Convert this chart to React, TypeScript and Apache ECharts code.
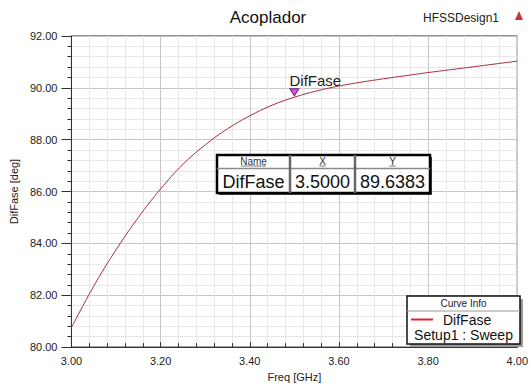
import React, { useEffect, useRef } from "react";
import * as echarts from "echarts";

// Sweep results: phase difference vs frequency
const freqGHz = [3.0, 3.05, 3.1, 3.15, 3.2, 3.25, 3.3, 3.35, 3.4, 3.45, 3.5, 3.55, 3.6, 3.65, 3.7, 3.75, 3.8, 3.85, 3.9, 3.95, 4.0];
const difFaseDeg = [80.75, 82.35, 83.75, 85.0, 86.1, 87.05, 87.8, 88.42, 88.92, 89.33, 89.6383, 89.88, 90.07, 90.22, 90.35, 90.47, 90.59, 90.7, 90.81, 90.92, 91.03];

// Marker readout
const markerFreq = 3.5;
const markerValue = 89.6383;

const seriesName = "DifFase";
const setupName = "Setup1 : Sweep";
const chartTitle = "Acoplador";
const designName = "HFSSDesign1";
const xAxisName = "Freq [GHz]";
const yAxisName = "DifFase [deg]";
const tableHeaders = ["Name", "X", "Y"];

const xMin = 3.0, xMax = 4.0, xStep = 0.2;
const yMin = 80, yMax = 92, yStep = 2;

const font = "'Liberation Sans', Arial, sans-serif";

export default function App() {
  const ref = useRef<HTMLDivElement>(null);

  useEffect(() => {
    if (!ref.current) return;
    const chart = echarts.init(ref.current, undefined, { renderer: "svg" });

    const data = freqGHz.map((f, i) => [f, difFaseDeg[i]]);

    // marker table geometry
    const tL = 217, tT = 155, tR = 430, tB = 193;
    const colX = [tL, 290, 355, tR];
    const colC = [0, 1, 2].map((i) => (colX[i] + colX[i + 1]) / 2);
    const tableCells = [seriesName, markerFreq.toFixed(4), markerValue.toFixed(4)];

    // curve info box geometry
    const lL = 407, lT = 296, lR = 520, lB = 344;

    const graphic: any[] = [
      { type: "text", x: 268, y: 17, style: { text: chartTitle, fontFamily: font, fontSize: 17, fill: "#111", textAlign: "center", textVerticalAlign: "middle" } },
      { type: "text", x: 461, y: 18, style: { text: designName, fontFamily: font, fontSize: 12, fill: "#222", textAlign: "center", textVerticalAlign: "middle" } },
      { type: "polygon", shape: { points: [[515, 20], [519, 11], [523, 20]] }, style: { fill: "#c8323c" } },

      // marker table
      { type: "rect", shape: { x: tL + 2, y: tT + 2, width: tR - tL, height: tB - tT }, style: { fill: "#444" } },
      { type: "rect", shape: { x: tL, y: tT, width: tR - tL, height: tB - tT }, style: { fill: "#fff", stroke: "#000", lineWidth: 2.5 } },
      { type: "line", shape: { x1: tL, y1: 168.5, x2: tR, y2: 168.5 }, style: { stroke: "#8a8a8a", lineWidth: 1.5 } },
      { type: "line", shape: { x1: colX[1], y1: tT, x2: colX[1], y2: tB }, style: { stroke: "#666", lineWidth: 2.5 } },
      { type: "line", shape: { x1: colX[2], y1: tT, x2: colX[2], y2: tB }, style: { stroke: "#666", lineWidth: 2.5 } },
      ...tableHeaders.map((h, i) => ({ type: "text", x: colC[i], y: 161.5, style: { text: h, fontFamily: font, fontSize: 10, fill: "#333", textAlign: "center", textVerticalAlign: "middle" } })),
      ...tableHeaders.map((h, i) => {
        const w = h.length * 6.2;
        return { type: "line", shape: { x1: colC[i] - w / 2, y1: 166, x2: colC[i] + w / 2, y2: 166 }, style: { stroke: "#555", lineWidth: 0.8 } };
      }),
      ...tableCells.map((t, i) => ({ type: "text", x: colC[i], y: 181.5, style: { text: t, fontFamily: font, fontSize: 18, fill: "#111", textAlign: "center", textVerticalAlign: "middle" } })),

      // curve info box
      { type: "rect", shape: { x: lL + 3, y: lT + 3, width: lR - lL, height: lB - lT }, style: { fill: "#9a9a9a" } },
      { type: "rect", shape: { x: lL, y: lT, width: lR - lL, height: lB - lT }, style: { fill: "#fff", stroke: "#111", lineWidth: 1.5 } },
      { type: "text", x: (lL + lR) / 2, y: 303.5, style: { text: "Curve Info", fontFamily: font, fontSize: 10, fill: "#222", textAlign: "center", textVerticalAlign: "middle" } },
      { type: "line", shape: { x1: lL, y1: 311, x2: lR, y2: 311 }, style: { stroke: "#999", lineWidth: 1 } },
      { type: "line", shape: { x1: 411, y1: 319.5, x2: 433, y2: 319.5 }, style: { stroke: "#e0203a", lineWidth: 2 } },
      { type: "text", x: 443, y: 319.5, style: { text: seriesName, fontFamily: font, fontSize: 14, fill: "#111", textAlign: "left", textVerticalAlign: "middle" } },
      { type: "text", x: (lL + lR) / 2, y: 334.5, style: { text: setupName, fontFamily: font, fontSize: 14, fill: "#111", textAlign: "center", textVerticalAlign: "middle" } },
    ];

    const option: any = {
      animation: false,
      backgroundColor: "#fff",
      grid: { left: 69, right: 6, top: 36, bottom: 33, show: true, borderColor: "#222", borderWidth: 1, backgroundColor: "#fff" },
      xAxis: {
        type: "value",
        min: xMin,
        max: xMax,
        interval: xStep,
        name: xAxisName,
        nameLocation: "middle",
        nameGap: 22,
        nameTextStyle: { fontFamily: font, fontSize: 11, color: "#222" },
        axisLine: { lineStyle: { color: "#333", width: 1 } },
        axisTick: { show: true, inside: true, length: 5, lineStyle: { color: "#333" } },
        minorTick: { show: true, splitNumber: 5, length: 4, lineStyle: { color: "#333" } },
        axisLabel: { fontFamily: font, fontSize: 11, color: "#222", margin: 8, formatter: (v: number) => v.toFixed(2) },
        splitLine: { show: true, lineStyle: { color: "#c6c6c6", width: 1 } },
        minorSplitLine: { show: true, lineStyle: { color: "#e8e8e8", width: 1 } },
      },
      yAxis: {
        type: "value",
        min: yMin,
        max: yMax,
        interval: yStep,
        name: yAxisName,
        nameLocation: "middle",
        nameGap: 46,
        nameTextStyle: { fontFamily: font, fontSize: 11, color: "#222" },
        axisLine: { show: true, lineStyle: { color: "#333", width: 1 } },
        axisTick: { show: true, inside: false, length: 10, lineStyle: { color: "#333" } },
        minorTick: { show: true, splitNumber: 5, length: 4, lineStyle: { color: "#333" } },
        axisLabel: { fontFamily: font, fontSize: 11, color: "#222", margin: 14, formatter: (v: number) => v.toFixed(2) },
        splitLine: { show: true, lineStyle: { color: "#c6c6c6", width: 1 } },
        minorSplitLine: { show: true, lineStyle: { color: "#e8e8e8", width: 1 } },
      },
      series: [
        {
          name: seriesName,
          type: "line",
          data,
          showSymbol: false,
          smooth: 0.4,
          lineStyle: { color: "#a8303c", width: 1 },
          markPoint: {
            symbol: "triangle",
            symbolRotate: 180,
            symbolSize: [9, 7],
            symbolOffset: [0, -5],
            itemStyle: { color: "#d456e6", borderColor: "#6a2a8a", borderWidth: 1 },
            label: { show: true, formatter: seriesName, position: "top", distance: 0, offset: [21, 0], fontFamily: font, fontSize: 15, color: "#222" },
            data: [{ coord: [markerFreq, markerValue] }],
          },
        },
      ],
      graphic: { elements: graphic.map((g) => ({ ...g, z: 100 })) },
    };

    chart.setOption(option);
    return () => chart.dispose();
  }, []);

  return <div ref={ref} style={{ width: 531, height: 387, position: "absolute", left: 0, top: 0 }} />;
}
